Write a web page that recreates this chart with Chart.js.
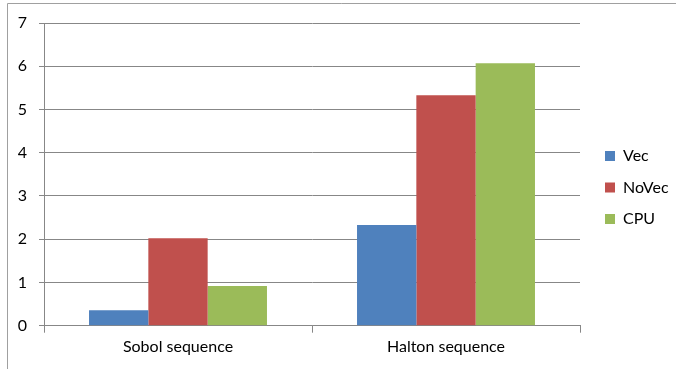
<!DOCTYPE html>
<html>
<head>
<meta charset="utf-8">
<script src="https://cdn.jsdelivr.net/npm/chart.js@4/dist/chart.umd.min.js"></script>
<style>
  html, body { margin: 0; padding: 0; background: #ffffff; }
  #wrap { position: relative; width: 676px; height: 369px; }
</style>
</head>
<body>
<div id="wrap"><canvas id="chart" width="676" height="369"></canvas></div>
<script>
// Timings per sequence generator and implementation
const categories = ['Sobol sequence', 'Halton sequence'];
const vecValues = [0.36, 2.33];
const noVecValues = [2.02, 5.33];
const cpuValues = [0.92, 6.07];
const yTicks = [0, 1, 2, 3, 4, 5, 6, 7];

const FONT = 'Lato, "Open Sans", "Liberation Sans", sans-serif';
const GRID = '#878787';

// Thin frame along the top and left edges of the canvas
const frame = {
  id: 'frame',
  beforeDraw(chart) {
    const ctx = chart.ctx;
    ctx.save();
    ctx.strokeStyle = '#a0a0a0';
    ctx.lineWidth = 1;
    ctx.beginPath();
    ctx.moveTo(7.5, chart.height);
    ctx.lineTo(7.5, 3.5);
    ctx.lineTo(chart.width, 3.5);
    ctx.stroke();
    ctx.restore();
  }
};

// Keep the legend column at a fixed width and place it beside the plot
const legendPlacement = {
  id: 'legendPlacement',
  beforeLayout(chart) {
    const lg = chart.legend;
    if (lg && !lg.__fixedWidth) {
      const fit = lg.fit.bind(lg);
      lg.fit = function () { fit(); this.width = 96; };
      lg.__fixedWidth = true;
    }
  },
  afterLayout(chart) {
    const lg = chart.legend;
    if (!lg) return;
    lg.left = chart.chartArea.right + 9.5;
    lg.right = lg.left + lg.width;
    lg.top = 132.5;
    lg.bottom = chart.height;
  }
};

new Chart(document.getElementById('chart'), {
  type: 'bar',
  data: {
    labels: categories,
    datasets: [
      { label: 'Vec', data: vecValues, backgroundColor: '#4F81BD' },
      { label: 'NoVec', data: noVecValues, backgroundColor: '#C0504D' },
      { label: 'CPU', data: cpuValues, backgroundColor: '#9BBB59' }
    ]
  },
  options: {
    responsive: false,
    animation: false,
    devicePixelRatio: 1,
    layout: { padding: { top: 23, left: 0, right: 0, bottom: 0 } },
    datasets: { bar: { categoryPercentage: 0.664, barPercentage: 1.0, borderWidth: 0 } },
    plugins: {
      title: { display: false },
      tooltip: { enabled: false },
      legend: {
        position: 'right',
        align: 'start',
        labels: {
          boxWidth: 10,
          boxHeight: 10,
          padding: 15.5,
          color: '#000000',
          font: { family: FONT, size: 16 }
        }
      }
    },
    scales: {
      x: {
        offset: true,
        grid: {
          display: true,
          drawOnChartArea: false,
          drawTicks: true,
          tickLength: 7,
          color: GRID,
          offset: true
        },
        border: { display: true, color: GRID, width: 1 },
        ticks: {
          color: '#000000',
          padding: 5,
          font: { family: FONT, size: 16 },
          maxRotation: 0
        },
        afterFit(scale) { scale.height = 43.3; }
      },
      y: {
        min: 0,
        max: 7,
        afterBuildTicks(scale) { scale.ticks = yTicks.map(v => ({ value: v })); },
        grid: {
          color: GRID,
          drawTicks: true,
          tickLength: 5
        },
        border: { display: true, color: GRID, width: 1 },
        ticks: {
          color: '#000000',
          padding: 12,
          font: { family: FONT, size: 16 }
        },
        afterFit(scale) { scale.width = 44; }
      }
    }
  },
  plugins: [frame, legendPlacement]
});
</script>
</body>
</html>
